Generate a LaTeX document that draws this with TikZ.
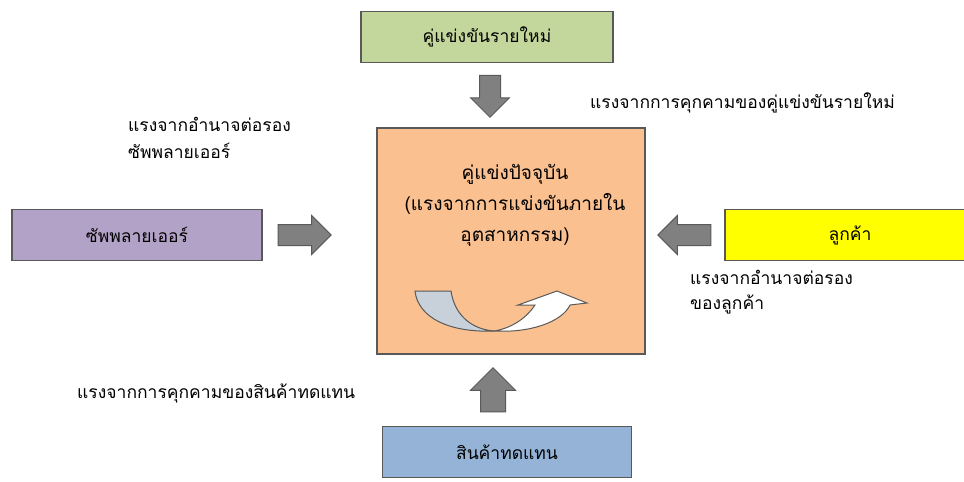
\documentclass[tikz,border=0pt]{standalone}
\usepackage{fontspec}
\newfontfamily\thaifont[Script=Thai]{Loma}
\usetikzlibrary{positioning}
\usetikzlibrary{shapes.arrows}

\definecolor{newgreen}{HTML}{C3D69B}
\definecolor{rivalpeach}{HTML}{FAC090}
\definecolor{suplilac}{HTML}{B3A2C7}
\definecolor{buyyellow}{HTML}{FFFF00}
\definecolor{subblue}{HTML}{95B3D7}
\definecolor{arrgray}{HTML}{808080}
\definecolor{edgegray}{HTML}{595959}
\definecolor{twistgray}{HTML}{C8D0DA}

\begin{document}
\begin{tikzpicture}[
    x=1pt,
    y=-1pt,
    every node/.style={
      font=\thaifont\fontsize{17.5}{20}\selectfont,
      inner sep=0
    },
    force/.style={
      rectangle,
      draw=edgegray,
      line width=1.3pt,
      minimum width=250pt,
      minimum height=51pt
    },
    blockarrow/.style={
      single arrow,
      draw=edgegray,
      fill=arrgray,
      line width=1pt,
      inner sep=10pt,
      single arrow head extend=9pt,
      minimum height=53pt
    },
    forcelabel/.style={
      anchor=west,
      align=left
    },
    ]

    \useasboundingbox (0,0) rectangle (964,482);

    % the five forces
    \node (new)   [force, fill=newgreen, minimum width=252pt] at (487,37)  {คู่แข่งขันรายใหม่};
    \node (rival) [force, fill=rivalpeach, minimum width=268pt, minimum height=226pt] at (511,241) {};
    \node (sup)   [force, fill=suplilac]  at (137,235) {ซัพพลายเออร์};
    \node (buy)   [force, fill=buyyellow] at (850,235) {ลูกค้า};
    \node (sub)   [force, fill=subblue, minimum width=249pt] at (507,452) {สินค้าทดแทน};

    \node (rivaltext) [align=center, font=\thaifont\fontsize{19}{31}\selectfont] at (515,205)
      {คู่แข่งปัจจุบัน\\(แรงจากการแข่งขันภายใน\\อุตสาหกรรม)};

    % block arrows between the boxes
    \node (newarr) [blockarrow, shape border rotate=270, minimum height=42pt] at (490,91) {};
    \node (suparr) [blockarrow, right=15pt of sup] {};
    \node (buyarr) [blockarrow, shape border rotate=180, left=13pt of buy] {};
    \node (subarr) [blockarrow, shape border rotate=90, minimum height=44pt, inner sep=12pt, single arrow head extend=10pt] at (493,396) {};

    % labels
    \node (newlbl) [forcelabel] at (590,103) {แรงจากการคุกคามของคู่แข่งขันรายใหม่};
    \node (suplbl) [forcelabel, font=\thaifont\fontsize{17.5}{27}\selectfont] at (128,138) {แรงจากอำนาจต่อรอง\\ซัพพลายเออร์};
    \node (buylbl) [forcelabel, font=\thaifont\fontsize{17.5}{25}\selectfont] at (690,292) {แรงจากอำนาจต่อรอง\\ของลูกค้า};
    \node (sublbl) [forcelabel] at (77,393) {แรงจากการคุกคามของสินค้าทดแทน};

    % twisted arrow inside the rivalry box
    \draw[edgegray, line width=1pt, fill=twistgray]
      (415,291) -- (451,291) .. controls (455,318) and (475,330) .. (495,331)
      .. controls (450,333) and (418,318) .. cycle;
    \draw[edgegray, line width=1pt, fill=white]
      (495,331) .. controls (530,333) and (562,322) .. (570,305)
      -- (587,303) -- (557,291) -- (518,305) -- (535,305)
      .. controls (525,320) and (510,328) .. cycle;
  \end{tikzpicture}
\end{document}
